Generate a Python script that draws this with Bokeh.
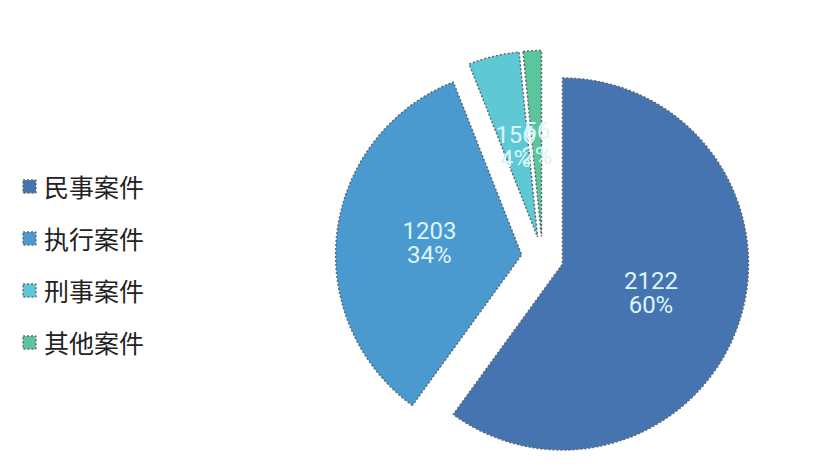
import math
from bokeh.plotting import figure
from bokeh.models import Range1d, ColumnDataSource, Legend, LegendItem
from bokeh.core.properties import value
from bokeh.embed import file_html
from bokeh.resources import INLINE

categories = ["民事案件", "执行案件", "刑事案件", "其他案件"]
counts = [2122, 1203, 156, 56]
colors = ["#4674b1", "#4a9ad0", "#5ec9d5", "#5bc59b"]

W, H = 797, 456
cx, cy = 542, H - 257
radius = 186
explode = 21

total = sum(counts)
starts, ends, xs, ys, lx, ly, labels = [], [], [], [], [], [], []
acc = 0.0
for c in counts:
    t0 = acc / total * 2 * math.pi
    acc += c
    t1 = acc / total * 2 * math.pi
    mid = (t0 + t1) / 2
    ox = cx + explode * math.sin(mid)
    oy = cy + explode * math.cos(mid)
    xs.append(ox)
    ys.append(oy)
    starts.append(math.pi / 2 - t0)
    ends.append(math.pi / 2 - t1)
    lx.append(ox + radius * 0.5 * math.sin(mid))
    ly.append(oy + radius * 0.5 * math.cos(mid))
    labels.append(f"{c}\n{round(c / total * 100)}%")

src = ColumnDataSource(dict(x=xs, y=ys, start=starts, end=ends, color=colors,
                            cat=categories, lx=lx, ly=ly, label=labels))

p = figure(width=W, height=H, output_backend="svg", toolbar_location=None,
           x_range=Range1d(0, W), y_range=Range1d(0, H), min_border=0)
p.axis.visible = False
p.grid.visible = False
p.outline_line_color = None

r = p.wedge(x="x", y="y", radius=radius, start_angle="start", end_angle="end",
            direction="clock", fill_color="color", line_color="#5d6870",
            line_width=1.5, line_dash="2 2", source=src)

p.text(x="lx", y="ly", text="label", source=src, text_align="center",
       text_baseline="middle", text_color="#dcf4fb", text_font_size="24px",
       text_font=value("Roboto"), text_line_height=0.87)

items = [LegendItem(label=categories[i], renderers=[r], index=i) for i in range(len(categories))]
legend = Legend(items=items, location=(21, 96), orientation="vertical",
                glyph_width=16, glyph_height=16, label_text_font_size="25px",
                label_text_font="Noto Sans CJK SC", label_text_color="#222222",
                label_standoff=7, spacing=16, padding=0, margin=0,
                border_line_color=None, background_fill_alpha=0,
                label_height=24)
p.add_layout(legend)

open("out.html", "w").write(file_html(p, INLINE))
